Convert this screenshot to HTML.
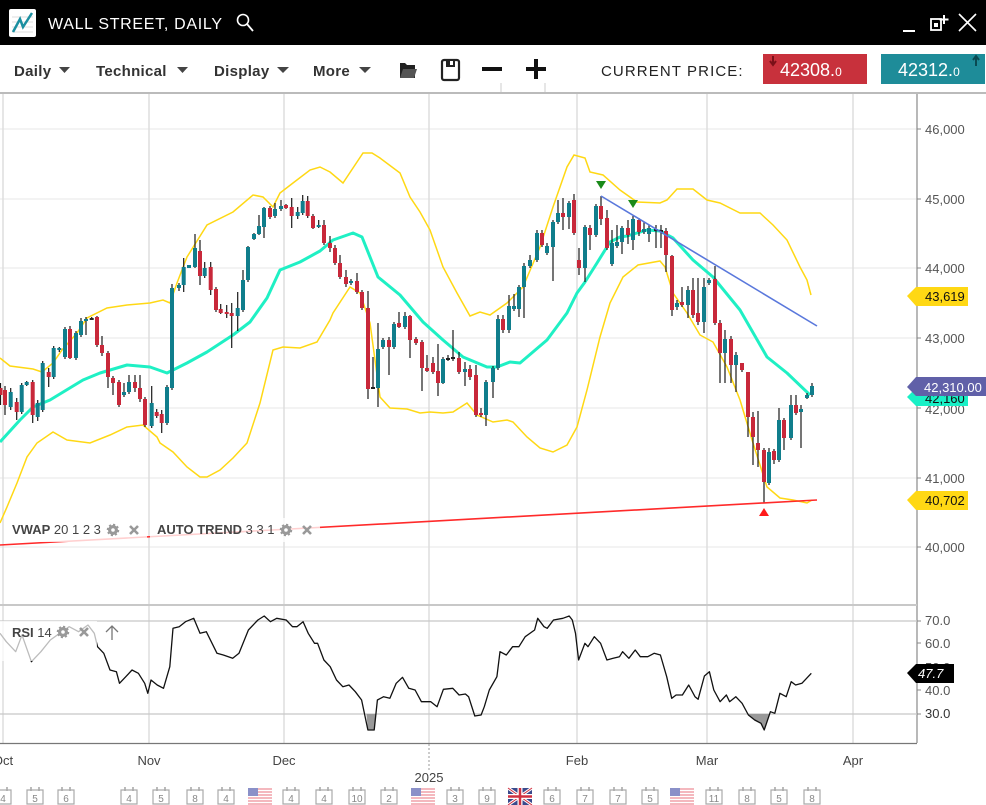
<!DOCTYPE html>
<html><head><meta charset="utf-8"><style>
html,body{margin:0;padding:0;background:#fff;width:986px;height:805px;overflow:hidden}
svg{display:block;font-family:"Liberation Sans",sans-serif}
</style></head><body>
<svg width="986" height="805" viewBox="0 0 986 805" xmlns="http://www.w3.org/2000/svg">
<!-- header -->
<rect x="0" y="0" width="986" height="45" fill="#000"/>
<rect x="9" y="9" width="27" height="28" rx="2" fill="#fff"/>
<path d="M12 17h21M12 22h21M12 27h21M12 32h21" stroke="#ddd" stroke-width="1"/>
<path d="M13 32 L20 19 L23 27 L32 13" stroke="#1b8fa0" stroke-width="2.5" fill="none"/>
<text x="48" y="29" font-size="16" fill="#fff" letter-spacing="0.7">WALL STREET, DAILY</text>
<circle cx="243" cy="20" r="5.5" stroke="#fff" stroke-width="1.6" fill="none"/>
<path d="M247 24 L253 31" stroke="#fff" stroke-width="1.8"/>
<path d="M903 31 H915" stroke="#fff" stroke-width="2"/>
<rect x="931" y="19" width="10" height="11" stroke="#fff" stroke-width="1.8" fill="none"/>
<rect x="934" y="23" width="4" height="4" fill="#fff"/>
<path d="M944 15 v9 M939.5 19.5 h9" stroke="#fff" stroke-width="2"/>
<path d="M959 14 L976 31 M976 14 L959 31" stroke="#fff" stroke-width="1.6"/>
<!-- toolbar -->
<g font-size="15" font-weight="bold" fill="#333" letter-spacing="0.3">
<text x="14" y="76">Daily</text>
<text x="96" y="76">Technical</text>
<text x="214" y="76">Display</text>
<text x="313" y="76">More</text>
</g>
<g fill="#444">
<path d="M59 67h11l-5.5 6z"/>
<path d="M177 67h11l-5.5 6z"/>
<path d="M277 67h12l-6 6z"/>
<path d="M359 67h12l-6 6z"/>
</g>
<path d="M400 63h5l2 2h8v13h-15z" fill="#222"/>
<path d="M403 69h14l-3 9h-14z" fill="#555"/>
<rect x="442" y="60" width="17" height="20" rx="2" fill="none" stroke="#222" stroke-width="2.2"/>
<rect x="446" y="60" width="9" height="7" fill="#222"/>
<rect x="450" y="61" width="3" height="4" fill="#fff"/>
<rect x="482" y="67" width="20" height="4" fill="#111"/>
<rect x="526" y="67" width="20" height="4" fill="#111"/>
<rect x="534" y="59" width="4" height="20" fill="#111"/>
<text x="601" y="76" font-size="15" fill="#222" letter-spacing="1.1">CURRENT PRICE:</text>
<rect x="763" y="54" width="104" height="30" fill="#c8313c"/>
<path d="M773 56v8M770 61l3 4 3-4" stroke="#7a1018" stroke-width="2" fill="none"/>
<text x="780" y="76" font-size="18" fill="#fff">42308.<tspan font-size="12">0</tspan></text>
<rect x="881" y="54" width="104" height="30" fill="#1e8c99"/>
<path d="M976 66v-9M973 60l3-4 3 4" stroke="#0a4a52" stroke-width="2" fill="none"/>
<text x="898" y="76" font-size="18" fill="#fff">42312.<tspan font-size="12">0</tspan></text>
<rect x="0" y="92" width="986" height="2" fill="#bbb"/>
<path d="M501 83v9M545 83v9" stroke="#ccc" stroke-width="1"/>

<!-- grid -->
<g stroke="#ececec" stroke-width="1.2">
<path d="M0 129H917M0 199H917M0 268H917M0 338H917M0 408H917M0 478H917M0 547H917"/>
</g>
<g stroke="#dcdcdc" stroke-width="1.4">
<path d="M3 94V743M149 94V743M284 94V743M429 94V743M577 94V743M707 94V743M853 94V743"/>
</g>

<!-- bands -->
<polyline fill="none" stroke="#ffd814" stroke-width="1.5" points="0,358 10,366 33,369 42,372 53,363 62,350 77,333 87,318 107,308 127,305 150,303 163,300 170,303 177,283 187,257 207,225 233,212 253,195 263,197 273,207 280,193 293,183 310,170 320,167 330,172 343,183 363,153 372,153 380,158 400,173 410,197 420,212 430,230 443,267 457,293 470,316 480,312 490,315 507,303 523,287 540,247 553,207 567,167 574,155 585,158 590,172 603,175 620,190 637,202 660,203 667,200 677,189 693,189 707,200 720,203 740,213 760,213 773,225 787,240 800,267 807,280 811,295"/>
<polyline fill="none" stroke="#ffd814" stroke-width="1.5" points="0,523 7,507 17,483 27,457 37,443 53,432 67,440 90,443 110,435 127,427 143,425 157,437 160,443 173,452 187,467 200,477 207,477 220,470 233,458 247,443 260,403 273,350 283,347 300,348 317,342 330,320 333,313 350,287 360,293 370,323 380,397 390,408 407,409 420,413 430,412 443,413 453,412 467,403 477,415 493,422 507,420 513,422 527,437 540,448 553,452 567,445 577,427 587,390 600,337 610,303 623,277 638,265 660,261 665,267 673,293 687,313 700,335 713,342 727,367 740,400 753,443 767,487 780,498 793,500 807,503 812,500"/>
<polyline fill="none" stroke="#1ff0c4" stroke-width="3" stroke-linejoin="round" points="0,442 20,420 33,407 50,400 83,380 100,373 127,365 150,367 167,373 187,363 207,352 233,335 250,322 267,298 280,270 300,262 320,251 333,240 353,233 362,237 378,277 400,295 423,322 443,340 463,357 487,367 497,367 510,362 520,363 547,340 567,313 577,293 585,282 597,263 610,242 620,237 627,236 647,230 660,231 673,238 693,260 713,277 740,310 767,357 787,373 810,395"/>

<!-- wicks -->
<path fill="none" stroke="#1a1a1a" stroke-width="1.2" d="M0.5 383V405M5 386V415M10.7 388V410M16.7 398V420M21.7 383V414M26.7 381V386M32.7 380V423M37.7 400V421M42.7 361V412M48.7 368V387M53.7 346V379M59.3 347V352M65 327V359M70 326V359M76 331V360M81 318V337M86 317V335M91.7 317V320M97 316V347M102 336V356M108 351V388M113 376V395M119 380V407M124 383V397M129 375V394M135 375V392M140 375V402M145 397V427M151.7 386V428M156.7 409V418M161.7 410V433M167 385V425M172 284V390M179 283V291M183.7 258V292M189 265V268M195 234V268M200 240V285M204.7 262V278M210.7 262V295M216 287V312M220.7 304V314M226.7 305V318M231.7 303V348M237.7 292V331M243 270V312M248 246V282M254 233V240M259 215V235M264 207V238M270 206V219M275 203V218M281 200V211M286 204V209M291.7 198V228M297.7 207V219M302.7 195V215M307.7 196V218M313 214V229M318.7 220V228M324 220V245M330 236V252M335 245V265M340 255V279M346 270V287M351 279V285M357 273V294M362 290V310M368 291V399M373 357V389M378 323V407M383 338V349M389 337V375M394 322V349M399 312V328M405 312V329M410 315V358M416 337V345M422 340V391M427 355V372M433 357V374M438 344V396M443 357V384M448 355V361M453 330V361M459 352V374M465 362V386M470 365V380M476 365V417M481 408V417M486 380V426M493 366V398M498 315V370M503 315V333M509 295V333M514 294V311M519 285V317M524 263V318M530 255V268M537 230V262M542 230V247M547 243V255M553 220V281M558 200V224M563 198V230M569 201V229M574 194V235M579 248V275M585 225V282M590 225V250M596 204V237M601 196V225M607 210V250M612 230V266M617 225V248M622 226V254M628 220V244M633 216V250M639 218V236M644 222V234M649 225V242M656 225V248M661 225V248M666 228V272M672 255V316M677 300V310M682 287V307M688 286V318M693 278V318M698 278V325M704 278V333M709 278V285M715 266V325M720 320V383M725 330V383M731 336V383M736 352V392M742 363V372M748 372V437M753 412V465M758 411V467M764 448V503M769 448V485M774 449V464M779 408V462M784 418V450M791 395V440M796 395V415M801 405V448M807 393V399M812 383V397"/>
<!-- red bodies -->
<path fill="#c8283a" d="M-1.5 388h4v7h-4zM3 390h4v15h-4zM14.7 402h4v10h-4zM30.7 382h4v33h-4zM46.7 372h4v5h-4zM68 329h4v29h-4zM95 317h4v28h-4zM100 345h4v8h-4zM106 353h4v24h-4zM111 378h4v5h-4zM117 382h4v23h-4zM133 382h4v6h-4zM138 388h4v11h-4zM143 399h4v26h-4zM154.7 412h4v4h-4zM159.7 414h4v9h-4zM198 251h4v25h-4zM208.7 267h4v23h-4zM214 289h4v21h-4zM218.7 309h4v4h-4zM224.7 312h4v2h-4zM229.7 313h4v3h-4zM268 208h4v9h-4zM284 205h4v3h-4zM289.7 207h4v9h-4zM305.7 201h4v15h-4zM311 216h4v12h-4zM322 225h4v18h-4zM328 243h4v5h-4zM333 248h4v15h-4zM338 263h4v14h-4zM344 277h4v7h-4zM355 281h4v11h-4zM360 292h4v16h-4zM366 308h4v81h-4zM387 340h4v7h-4zM397 323h4v4h-4zM408 316h4v24h-4zM414 339h4v4h-4zM420 342h4v26h-4zM425 368h4v3h-4zM431 363h4v9h-4zM436 371h4v12h-4zM457 358h4v14h-4zM468 369h4v8h-4zM474 375h4v40h-4zM479 413h4v2h-4zM501 319h4v11h-4zM540 233h4v12h-4zM561 213h4v4h-4zM572 200h4v33h-4zM577 260h4v8h-4zM588 228h4v7h-4zM599 206h4v13h-4zM605 218h4v30h-4zM626 228h4v7h-4zM637 220h4v12h-4zM664 231h4v24h-4zM670 256h4v54h-4zM680 302h4v3h-4zM691 290h4v25h-4zM696 313h4v9h-4zM713 279h4v44h-4zM718 323h4v30h-4zM729 339h4v26h-4zM740 363h4v7h-4zM746 372h4v45h-4zM751 417h4v20h-4zM756 443h4v7h-4zM762 450h4v32h-4zM772 451h4v9h-4zM782 420h4v18h-4zM794 405h4v8h-4z"/>
<!-- teal bodies -->
<path fill="#107e8c" d="M8.7 392h4v15h-4zM19.7 385h4v27h-4zM24.7 382h4v3h-4zM35.7 403h4v14h-4zM40.7 363h4v47h-4zM51.7 348h4v29h-4zM57.3 348h4v2h-4zM63 329h4v28h-4zM74 333h4v25h-4zM79 321h4v14h-4zM84 319h4v2h-4zM122 392h4v3h-4zM127 382h4v10h-4zM149.7 403h4v23h-4zM165 387h4v36h-4zM170 288h4v100h-4zM177 285h4v3h-4zM181.7 267h4v18h-4zM187 265h4v3h-4zM193 248h4v19h-4zM202.7 268h4v8h-4zM235.7 308h4v8h-4zM241 280h4v30h-4zM246 247h4v33h-4zM252 234h4v5h-4zM257 226h4v8h-4zM262 208h4v19h-4zM273 209h4v7h-4zM279 206h4v3h-4zM295.7 212h4v4h-4zM300.7 201h4v12h-4zM316.7 225h4v2h-4zM349 281h4v2h-4zM376 349h4v39h-4zM381 340h4v7h-4zM392 324h4v23h-4zM403 316h4v11h-4zM441 359h4v24h-4zM463 369h4v3h-4zM484 382h4v33h-4zM491 368h4v14h-4zM496 319h4v49h-4zM507 306h4v24h-4zM512 306h4v3h-4zM517 287h4v22h-4zM522 266h4v21h-4zM528 260h4v6h-4zM535 233h4v27h-4zM545 246h4v7h-4zM551 222h4v25h-4zM556 213h4v9h-4zM567 203h4v14h-4zM583 227h4v41h-4zM594 206h4v29h-4zM610 243h4v21h-4zM615 242h4v4h-4zM620 228h4v14h-4zM631 219h4v21h-4zM642 229h4v3h-4zM647 228h4v6h-4zM675 303h4v4h-4zM686 290h4v15h-4zM702 287h4v35h-4zM707 280h4v3h-4zM723 339h4v14h-4zM734 355h4v10h-4zM767 452h4v31h-4zM777 420h4v40h-4zM789 405h4v33h-4zM799 409h4v3h-4zM805 395h4v3h-4zM810 386h4v9h-4z"/>
<path fill="#222" d="M89.7 318h4v2h-4zM371 387h4v2h-4zM446 358h4v2h-4zM451 357h4v2h-4zM654 229h4v2h-4zM659 230h4v2h-4z"/>

<!-- trend lines -->
<path d="M601 196 L817 326" stroke="#5a78dc" stroke-width="1.6"/>
<path d="M0 545 L817 500" stroke="#ff2a2a" stroke-width="1.6"/>
<path d="M596 181h10l-5 8z M628 200h10l-5 8z" fill="#1a8a1a"/>
<path d="M759 516h10l-5-8z" fill="#ff1a1a"/>

<!-- indicator labels -->
<rect x="10" y="518" width="137" height="24" fill="#fff" opacity="0.78"/>
<rect x="150" y="518" width="170" height="24" fill="#fff" opacity="0.78"/>
<g font-size="13" fill="#444">
<text x="12" y="534"><tspan font-weight="bold">VWAP</tspan> 20 1 2 3</text>
<text x="157" y="534"><tspan font-weight="bold">AUTO TREND</tspan> 3 3 1</text>
</g>
<g fill="#999">
<circle cx="113" cy="530" r="5" stroke="#999" stroke-width="2.5" stroke-dasharray="2 1.9" fill="#999"/>
<circle cx="113" cy="530" r="1.8" fill="#fff"/>
<circle cx="286" cy="530" r="5" stroke="#999" stroke-width="2.5" stroke-dasharray="2 1.9" fill="#999"/>
<circle cx="286" cy="530" r="1.8" fill="#fff"/>
</g>
<path d="M130 526l8 8M138 526l-8 8M303 526l8 8M311 526l-8 8" stroke="#999" stroke-width="2.6"/>

<!-- right axis -->
<path d="M917 94V743" stroke="#8a8a8a" stroke-width="1.2"/>
<path d="M917 129h4M917 199h4M917 268h4M917 338h4M917 408h4M917 478h4M917 547h4" stroke="#888"/>
<g font-size="13" fill="#555">
<text x="925" y="134">46,000</text>
<text x="925" y="204">45,000</text>
<text x="925" y="273">44,000</text>
<text x="925" y="343">43,000</text>
<text x="925" y="414">42,000</text>
<text x="925" y="483">41,000</text>
<text x="925" y="552">40,000</text>
</g>
<polygon points="907,296 916,287 968,287 968,306 916,306" fill="#ffd814"/>
<text x="925" y="301" font-size="13" fill="#111">43,619</text>
<polygon points="907,397 916,388 968,388 968,406 916,406" fill="#19f0c6"/>
<text x="925" y="403" font-size="13" fill="#111">42,160</text>
<polygon points="907,387 916,377 986,377 986,396 916,396" fill="#6060a8"/>
<text x="924" y="392" font-size="13" fill="#fff">42,310.00</text>
<polygon points="907,500 916,491 968,491 968,510 916,510" fill="#ffd814"/>
<text x="925" y="505" font-size="13" fill="#111">40,702</text>

<!-- RSI panel -->
<rect x="0" y="604" width="917" height="2" fill="#c8c8c8"/>
<path d="M0 621H917M0 714H917" stroke="#c8c8c8" stroke-width="1.2"/>
<polygon fill="#999" points="366.4,714 367.9,730 374.2,730 375.8,714"/>
<polygon fill="#999" points="747.9,714 748.4,715 754.7,720 761,723.3 764.2,730 769.6,714"/>
<polyline fill="none" stroke="#111" stroke-width="1.3" stroke-linejoin="round" points="0,633.3 6.3,641.7 15.7,651.7 22,635 31.4,661.7 40.9,651.7 50.3,640 59.7,633.3 69.2,626.7 78.6,631.7 88,625 94.3,633.3 97.5,646.7 103.8,653.3 110,670 116.4,671.7 119.5,683.3 125.8,676.7 132,670 138.4,673.3 144.7,683.3 147.8,693.3 151,680 157.2,685 163.5,688.3 169.8,666.7 173,628.3 179.2,626.7 185.5,621.7 193.7,618.3 200,633.3 206.3,631.7 217,653.3 223.3,655 232.7,658.3 239,653.3 248.4,630 257.9,620 264.2,616 270.4,621.7 276.7,618.3 286.2,620 292.5,626.7 296.9,626.7 303.1,621.7 308.2,633.3 314.5,643.3 317.6,643.3 323.9,660 330.2,666.7 336.5,680 342.8,686.7 349,685 355.3,691.7 361.6,700 367.9,730 374.2,730 377.4,700 383.6,696.7 389.9,698.3 396.2,683.3 402.5,677.3 408.8,688.3 415.1,690 421.4,701.7 430.8,701.7 437.1,706.7 443.4,689.3 452.8,688.3 459.1,695 465.4,694 468.6,696.7 474.8,716 481.1,715 484.3,706.7 489.3,690 496.9,676.7 500,651.7 506.3,655 512.6,646.7 518.9,646.7 525.2,636.7 534.6,630 537.7,618.3 544,626.7 547.2,628.3 553.5,620 562.9,618.3 569.2,616 572.3,620 575.5,633.3 578.6,660 584.9,643.3 588,646.7 594.3,636.7 600.6,643.3 606.9,660 613.2,658.3 619.5,656.7 622.6,651.7 628.9,658.3 635.2,650 640.3,656.7 647.8,656.7 654.1,653.3 660.4,655 666.7,676.7 671.7,698.3 676.1,695 682.4,695 688.7,685 695,696.7 698.1,699.3 704.4,676 709.4,671.7 713.8,690 720.1,701.7 726.4,695 729.6,701.7 735.8,696.7 742.1,703.3 748.4,715 754.7,720 761,723.3 764.2,730 770.4,711.7 774.8,713.3 779.9,693.3 786.2,696.7 791.2,681.7 795.6,685 801.9,683.3 811.3,673.3"/>
<rect x="0" y="621" width="97" height="40" fill="#fff" opacity="0.72"/>
<text x="12" y="637" font-size="13" fill="#444"><tspan font-weight="bold">RSI</tspan> 14</text>
<circle cx="63" cy="632" r="5" stroke="#999" stroke-width="2.5" stroke-dasharray="2 1.9" fill="#999"/>
<circle cx="63" cy="632" r="1.8" fill="#fff"/>
<path d="M80 628l8 8M88 628l-8 8" stroke="#999" stroke-width="2.6"/>
<path d="M112 640V626M106 632l6-6 6 6" stroke="#777" stroke-width="1.3" fill="none"/>
<path d="M917 621h4M917 643h4M917 667h4M917 690h4M917 714h4" stroke="#888"/>
<g font-size="13" fill="#555">
<text x="925" y="625">70.0</text>
<text x="925" y="648">60.0</text>
<text x="925" y="672">50.0</text>
<text x="925" y="695">40.0</text>
<text x="925" y="718" fill="#333">30.0</text>
</g>
<polygon points="907,673 916,664 954,664 954,683 916,683" fill="#000"/>
<text x="918" y="678" font-size="13" font-style="italic" fill="#fff">47.7</text>

<!-- x axis -->
<path d="M0 743.5H917" stroke="#777" stroke-width="1.3"/>
<path d="M429 744V770" stroke="#999" stroke-dasharray="2 2"/>
<g font-size="13" fill="#444" text-anchor="middle">
<text x="3" y="765">Oct</text>
<text x="149" y="765">Nov</text>
<text x="284" y="765">Dec</text>
<text x="577" y="765">Feb</text>
<text x="707" y="765">Mar</text>
<text x="853" y="765">Apr</text>
<text x="429" y="782">2025</text>
</g>

<!-- calendar row -->
<g fill="none" stroke="#aaa" stroke-width="1.2">
<path d="M-5 790h16v14h-16zM27 790h16v14h-16zM58 790h16v14h-16zM121 790h16v14h-16zM153 790h16v14h-16zM187 790h16v14h-16zM218 790h16v14h-16zM283 790h16v14h-16zM316 790h16v14h-16zM349 790h16v14h-16zM381 790h16v14h-16zM447 790h16v14h-16zM479 790h16v14h-16zM544 790h16v14h-16zM577 790h16v14h-16zM610 790h16v14h-16zM642 790h16v14h-16zM706 790h16v14h-16zM739 790h16v14h-16zM771 790h16v14h-16zM804 790h16v14h-16z"/>
</g>
<g stroke="#aaa" stroke-width="1.6">
<path d="M-1 787v4M7 787v4M31 787v4M39 787v4M62 787v4M70 787v4M125 787v4M133 787v4M157 787v4M165 787v4M191 787v4M199 787v4M222 787v4M230 787v4M287 787v4M295 787v4M320 787v4M328 787v4M353 787v4M361 787v4M385 787v4M393 787v4M451 787v4M459 787v4M483 787v4M491 787v4M548 787v4M556 787v4M581 787v4M589 787v4M614 787v4M622 787v4M646 787v4M654 787v4M710 787v4M718 787v4M743 787v4M751 787v4M775 787v4M783 787v4M808 787v4M816 787v4"/>
</g>
<g font-size="10" fill="#888" text-anchor="middle">
<text x="3" y="802">4</text><text x="35" y="802">5</text><text x="66" y="802">6</text>
<text x="129" y="802">4</text><text x="161" y="802">5</text><text x="195" y="802">8</text><text x="226" y="802">4</text>
<text x="291" y="802">4</text><text x="324" y="802">4</text><text x="357" y="802">10</text><text x="389" y="802">2</text>
<text x="455" y="802">3</text><text x="487" y="802">9</text>
<text x="552" y="802">6</text><text x="585" y="802">7</text><text x="618" y="802">7</text><text x="650" y="802">5</text>
<text x="714" y="802">11</text><text x="747" y="802">8</text><text x="779" y="802">5</text><text x="812" y="802">8</text>
</g>
<!-- US flags -->
<g>
<rect x="248" y="788" width="24" height="17" fill="#fff"/>
<path d="M248 789h24M248 792h24M248 795h24M248 798h24M248 801h24M248 804h24" stroke="#f0a0a8" stroke-width="1.5"/>
<rect x="248" y="788" width="10" height="8" fill="#8a90c8"/>
<rect x="411" y="788" width="24" height="17" fill="#fff"/>
<path d="M411 789h24M411 792h24M411 795h24M411 798h24M411 801h24M411 804h24" stroke="#f0a0a8" stroke-width="1.5"/>
<rect x="411" y="788" width="10" height="8" fill="#8a90c8"/>
<rect x="670" y="788" width="24" height="17" fill="#fff"/>
<path d="M670 789h24M670 792h24M670 795h24M670 798h24M670 801h24M670 804h24" stroke="#f0a0a8" stroke-width="1.5"/>
<rect x="670" y="788" width="10" height="8" fill="#8a90c8"/>
</g>
<!-- UK flag -->
<g>
<rect x="508" y="788" width="24" height="17" fill="#3a4a8c"/>
<path d="M508 788L532 805M532 788L508 805" stroke="#fff" stroke-width="3"/>
<path d="M508 788L532 805M532 788L508 805" stroke="#d03040" stroke-width="1"/>
<path d="M520 788v17M508 796.5h24" stroke="#fff" stroke-width="5"/>
<path d="M520 788v17M508 796.5h24" stroke="#d03040" stroke-width="2.5"/>
</g>
</svg>
</body></html>
